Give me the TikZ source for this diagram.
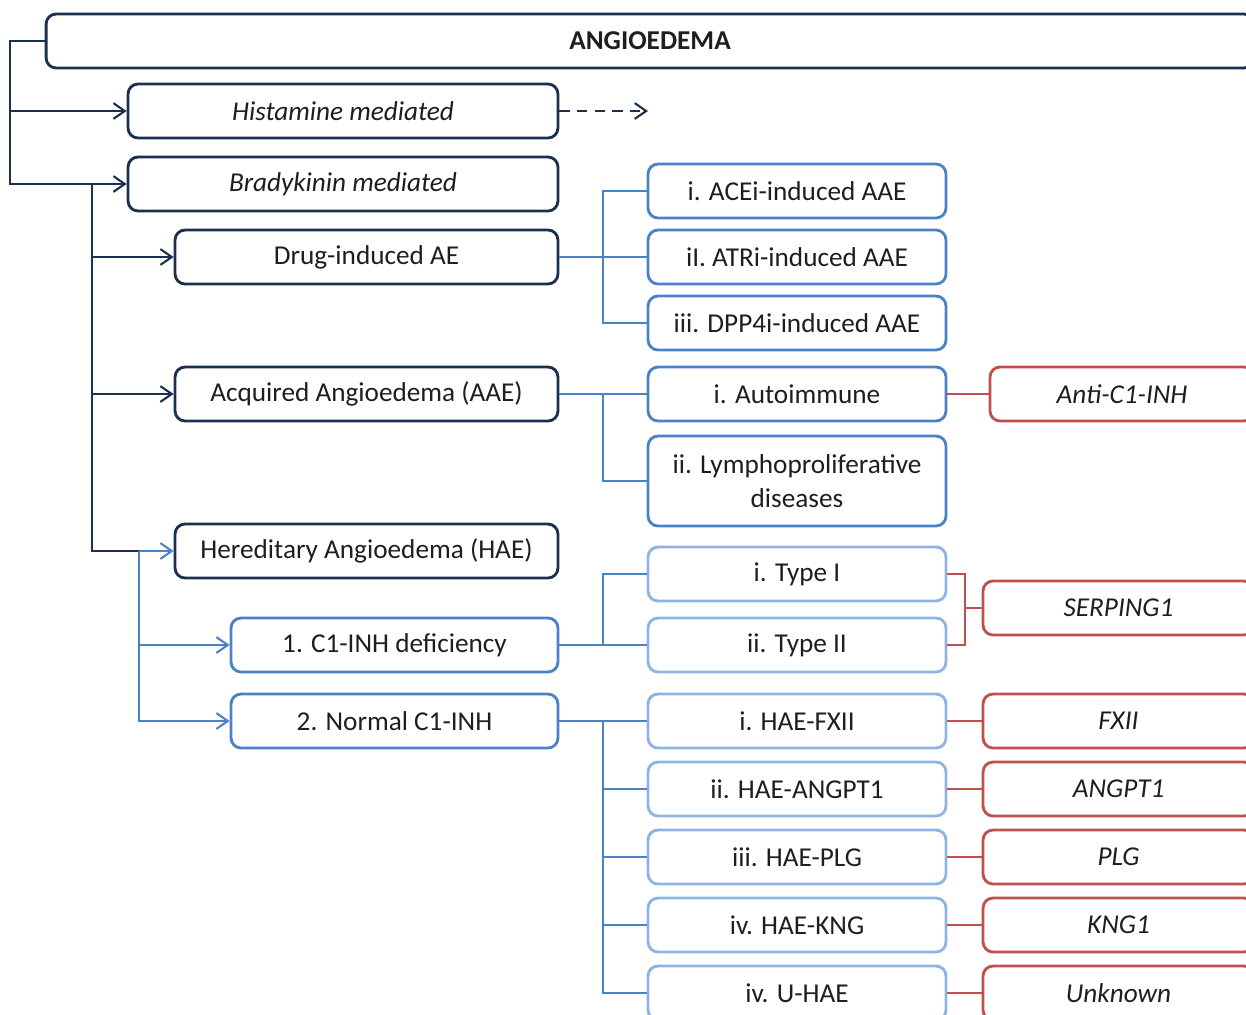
\documentclass[tikz,border=0pt]{standalone}
\usepackage{fontspec}
\setmainfont{Carlito}
\usepackage{tikz}
\usetikzlibrary{arrows.meta}

\definecolor{navy}{HTML}{1B3050}
\definecolor{midblue}{HTML}{4A82C8}
\definecolor{lightblue}{HTML}{8EB4E3}
\definecolor{genered}{HTML}{C0504D}
\definecolor{inktext}{HTML}{1E1E1E}

\tikzset{
	box/.style={rounded corners=0.2cm, line width=1.6pt, inner sep=0pt, minimum height=1.08cm, align=center, text=inktext, font=\fontsize{15.5}{19}\selectfont},
	navybox/.style={box, draw=navy},
	bluebox/.style={box, draw=midblue},
	lightbox/.style={box, draw=lightblue, minimum width=5.96cm},
	redbox/.style={box, draw=genered, font=\fontsize{15.5}{19}\selectfont\itshape},
	navyline/.style={draw=navy, line width=1.2pt},
	blueline/.style={draw=midblue, line width=1.2pt},
	redline/.style={draw=genered, line width=1.2pt},
	tip/.style={-{Straight Barb[length=6.5pt,width=9pt]}}
}

\begin{document}
\begin{tikzpicture}[x=0.02cm, y=-0.02cm]
			%%%%% START %%%%%
			
			\useasboundingbox (0, 0) rectangle (1246, 1014);
			\clip (0, 0) rectangle (1246, 1014);
			
			\node[navybox, minimum width=24.16cm, font=\fontsize{15.5}{19}\selectfont\bfseries] (angio) at (650, 41) {ANGIOEDEMA};
			
			\node[navybox, minimum width=8.6cm, font=\fontsize{15.5}{19}\selectfont\itshape] (hist) at (343, 111) {Histamine mediated};
			\node[navybox, minimum width=8.6cm, font=\fontsize{15.5}{19}\selectfont\itshape] (brady) at (343, 184) {Bradykinin mediated};
			
			\node[navybox, minimum width=7.66cm] (drug) at (366.5, 257) {Drug-induced AE};
			\node[navybox, minimum width=7.66cm] (aae) at (366.5, 394) {Acquired Angioedema (AAE)};
			\node[navybox, minimum width=7.66cm] (hae) at (366.5, 551) {Hereditary Angioedema (HAE)};
			
			\node[bluebox, minimum width=6.54cm] (cdef) at (394.5, 645) {1. C1-INH deficiency};
			\node[bluebox, minimum width=6.54cm] (cnorm) at (394.5, 721) {2. Normal C1-INH};
			
			\node[bluebox, minimum width=5.96cm] (acei) at (797, 191) {i. ACEi-induced AAE};
			\node[bluebox, minimum width=5.96cm] (atri) at (797, 257) {iI. ATRi-induced AAE};
			\node[bluebox, minimum width=5.96cm] (dpp) at (797, 323) {iii. DPP4i-induced AAE};
			\node[bluebox, minimum width=5.96cm] (auto) at (797, 394) {i. Autoimmune};
			\node[bluebox, minimum width=5.96cm, minimum height=1.8cm] (lympho) at (797, 481) {ii. Lymphoproliferative\\diseases};
			
			\node[lightbox] (typeone) at (797, 574) {i. Type I};
			\node[lightbox] (typetwo) at (797, 645) {ii. Type II};
			\node[lightbox] (fxii) at (797, 721) {i. HAE-FXII};
			\node[lightbox] (angpt) at (797, 789) {ii. HAE-ANGPT1};
			\node[lightbox] (plg) at (797, 857) {iii. HAE-PLG};
			\node[lightbox] (kng) at (797, 925) {iv. HAE-KNG};
			\node[lightbox] (uhae) at (797, 993) {iv. U-HAE};
			
			\node[redbox, minimum width=5.28cm] (anti) at (1122, 394) {Anti-C1-INH};
			\node[redbox, minimum width=5.42cm] (serping) at (1118.5, 608) {SERPING1};
			\node[redbox, minimum width=5.42cm] (gfxii) at (1118.5, 721) {FXII};
			\node[redbox, minimum width=5.42cm] (gangpt) at (1118.5, 789) {ANGPT1};
			\node[redbox, minimum width=5.42cm] (gplg) at (1118.5, 857) {PLG};
			\node[redbox, minimum width=5.42cm] (gkng) at (1118.5, 925) {KNG1};
			\node[redbox, minimum width=5.42cm] (gunk) at (1118.5, 993) {Unknown};
			
			% left trunks
			\coordinate (rootbar) at (10, 41);
			\coordinate (bradybar) at (92, 184);
			\coordinate (haebar) at (139, 551);
			\coordinate (histend) at (648, 111);
			
			\draw[navyline, tip] (angio.west) -- (rootbar) |- (brady.west);
			\draw[navyline, tip] (rootbar) |- (hist.west);
			\draw[navyline, dashed, dash pattern=on 6pt off 4pt, tip] (hist.east) -- (histend);
			
			\draw[navyline] (bradybar) |- (haebar);
			\draw[navyline] (bradybar) |- (drug.west) [tip];
			\draw[navyline, tip] (bradybar) |- (aae.west);
			\draw[blueline, tip] (haebar) -- (hae.west);
			
			\draw[blueline, tip] (haebar) |- (cdef.west);
			\draw[blueline, tip] (haebar) |- (cnorm.west);
			
			% right branches
			\coordinate (drugbar) at (603, 257);
			\coordinate (aaebar) at (603, 394);
			\coordinate (cdefbar) at (603, 645);
			\coordinate (normbar) at (603, 721);
			
			\draw[blueline] (drug.east) -- (atri.west);
			\draw[blueline] (drugbar) |- (acei.west);
			\draw[blueline] (drugbar) |- (dpp.west);
			
			\draw[blueline] (aae.east) -- (auto.west);
			\draw[blueline] (aaebar) |- (lympho.west);
			
			\draw[blueline] (cdef.east) -- (typetwo.west);
			\draw[blueline] (cdefbar) |- (typeone.west);
			
			\draw[blueline] (cnorm.east) -- (fxii.west);
			\foreach \n in {angpt, plg, kng, uhae}
				\draw[blueline] (normbar) |- (\n.west);
			
			% genes
			\coordinate (serpbar) at (965, 608);
			\draw[redline] (auto.east) -- (anti.west);
			\draw[redline] (typeone.east) -| (serpbar) |- (typetwo.east);
			\draw[redline] (serpbar) -- (serping.west);
			\foreach \a/\b in {fxii/gfxii, angpt/gangpt, plg/gplg, kng/gkng, uhae/gunk}
				\draw[redline] (\a.east) -- (\b.west);
			
			%%%%% END %%%%%
\end{tikzpicture}
\end{document}
